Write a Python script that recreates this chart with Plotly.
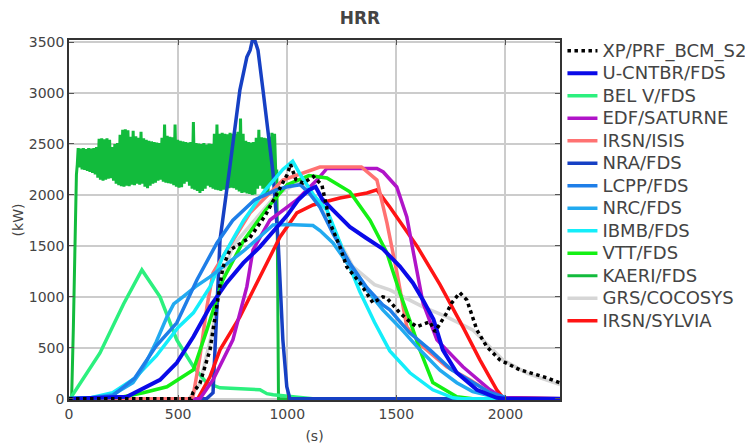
import plotly.graph_objects as go

# ---------------- data ----------------
XP_T = [0, 560, 568, 600, 646, 678, 705, 737, 780, 829, 900, 960, 1000, 1015, 1040, 1072, 1095, 1120,
        1159, 1196, 1240, 1273, 1333, 1393, 1438, 1456, 1516, 1562, 1594, 1654, 1677, 1731, 1754, 1791,
        1823, 1869, 1915, 1974, 2066, 2190, 2250]
XP_Y = [0, 0, 60, 150, 480, 900, 1290, 1460, 1520, 1580, 1800, 2050, 2200, 2300, 2150, 2117, 2146, 2180,
        2097, 1725, 1500, 1294, 1137, 941, 1000, 990, 843, 755, 706, 755, 657, 843, 941, 1040,
        970, 676, 510, 382, 284, 206, 157]

UC_T = [0, 100, 265, 417, 494, 570, 646, 722, 799, 875, 950, 1000, 1050, 1100, 1130, 1160, 1210, 1287,
        1360, 1438, 1516, 1576, 1622, 1670, 1713, 1777, 1869, 1960, 2000, 2250]
UC_Y = [0, 5, 20, 186, 353, 608, 902, 1137, 1333, 1490, 1680, 1800, 1950, 2050, 2080, 1960, 1850, 1686,
        1580, 1470, 1300, 1137, 970, 780, 480, 255, 88, 10, 0, 0]

BEL_T = [0, 5, 142, 250, 334, 417, 494, 570, 631, 692, 875, 907, 936, 1026, 1117, 2250]
BEL_Y = [0, 0, 450, 930, 1264, 1000, 578, 314, 157, 108, 88, 50, 40, 20, 0, 0]

EDF_T = [0, 600, 660, 751, 815, 843, 921, 1044, 1136, 1182, 1411, 1440, 1502, 1548, 1576, 1622, 1686,
         1805, 1929, 1988, 2250]
EDF_Y = [0, 0, 186, 578, 1100, 1460, 1754, 1950, 2146, 2260, 2260, 2225, 2078, 1784, 1460, 941, 578,
         314, 88, 10, 0]

ISIS_T = [0, 550, 568, 600, 632, 660, 724, 829, 980, 1150, 1340, 1411, 1457, 1503, 1548, 1622, 1731,
          1837, 1929, 2000, 2250]
ISIS_Y = [0, 0, 20, 412, 902, 1235, 1460, 1823, 2146, 2274, 2274, 2146, 1725, 1235, 706, 510, 314,
          186, 59, 0, 0]

NRA_T = [0, 630, 660, 692, 737, 783, 815, 830, 845, 866, 889, 935, 958, 980, 998, 1012, 2250]
NRA_Y = [0, 0, 60, 1558, 2274, 3028, 3352, 3420, 3560, 3420, 3028, 2215, 1558, 578, 118, 0, 0]

LCPP_T = [0, 100, 200, 300, 400, 494, 586, 678, 750, 850, 950, 1000, 1060, 1100, 1150, 1210, 1287,
          1365, 1438, 1470, 1560, 1654, 1750, 1850, 1930, 1990, 2010, 2250]
LCPP_Y = [0, 5, 30, 200, 520, 745, 1166, 1529, 1750, 1950, 2050, 2080, 2100, 2020, 1880, 1620, 1330,
          1090, 920, 872, 650, 480, 290, 157, 60, 20, 0, 0]

NRC_T = [0, 100, 200, 293, 340, 400, 449, 480, 522, 580, 646, 705, 800, 880, 935, 1000, 1060, 1118,
         1150, 1210, 1287, 1365, 1438, 1516, 1608, 1700, 1777, 1850, 1929, 2000, 2250]
NRC_Y = [0, 10, 40, 157, 300, 560, 804, 930, 1000, 1100, 1196, 1294, 1450, 1600, 1705, 1710, 1705, 1700,
         1650, 1529, 1294, 1068, 872, 700, 480, 280, 157, 70, 30, 0, 0]

IBMB_T = [0, 100, 200, 300, 400, 500, 570, 646, 705, 800, 900, 980, 1025, 1060, 1120, 1182, 1255, 1333,
          1400, 1470, 1562, 1667, 1760, 1800, 2250]
IBMB_Y = [0, 10, 60, 200, 420, 700, 843, 1098, 1392, 1750, 2050, 2250, 2330, 2200, 2000, 1852, 1460,
          1050, 750, 470, 255, 88, 10, 0, 0]

VTT_T = [0, 250, 340, 449, 570, 632, 705, 800, 900, 1000, 1100, 1182, 1287, 1380, 1457, 1516, 1560,
         1608, 1667, 1777, 1850, 2250]
VTT_Y = [0, 20, 59, 118, 284, 676, 1166, 1550, 1850, 2100, 2190, 2166, 2030, 1750, 1430, 1040, 780,
         480, 160, 20, 0, 0]

KAERI_T = [0, 12, 20, 27, 34, 38] + list(range(42, 949, 6)) + [952, 956, 960, 2250]
KAERI_Y = [0, 0, 700, 1650, 2200, 2300,
           2460, 2270, 2455, 2250, 2460, 2245, 2450, 2235, 2460, 2225,
           2455, 2215, 2460, 2200, 2470, 2170, 2550, 2150, 2555, 2140,
           2545, 2150, 2555, 2160, 2540, 2165, 2470, 2140, 2500, 2110,
           2510, 2095, 2590, 2085, 2640, 2080, 2645, 2090, 2635, 2085,
           2570, 2100, 2630, 2095, 2575, 2110, 2560, 2100, 2620, 2110,
           2555, 2080, 2540, 2065, 2530, 2090, 2525, 2110, 2520, 2120,
           2515, 2140, 2510, 2150, 2560, 2130, 2690, 2120, 2580, 2115,
           2570, 2110, 2565, 2095, 2690, 2080, 2540, 2070, 2530, 2075,
           2525, 2110, 2520, 2130, 2515, 2090, 2520, 2060, 2715, 2050,
           2510, 2040, 2505, 2020, 2500, 2040, 2510, 2060, 2495, 2090,
           2505, 2075, 2500, 2060, 2600, 2050, 2690, 2045, 2600, 2040,
           2610, 2050, 2600, 2060, 2595, 2065, 2610, 2070, 2600, 2065,
           2600, 2050, 2620, 2035, 2750, 2020, 2600, 2025, 2530, 2015,
           2520, 2010, 2515, 2000, 2520, 2005, 2560, 2060, 2640, 2090,
           2565, 2060, 2560, 2000, 2555, 2030, 2570, 2100, 2610, 2150,
           2600, 2180,
           2250, 1200, 0, 0]

GRS_T = [0, 550, 600, 650, 700, 750, 850, 950, 1050, 1100, 1200, 1300, 1400, 1470, 1622, 1731, 1850,
         1929, 1988, 2100, 2250]
GRS_Y = [0, 0, 150, 600, 1150, 1500, 1750, 2000, 2120, 2080, 1700, 1300, 1120, 1068, 902, 804, 676,
         510, 382, 250, 140]

SYL_T = [0, 590, 646, 692, 783, 907, 967, 1044, 1118, 1241, 1365, 1411, 1470, 1594, 1700, 1805, 1883,
         1960, 1990, 2250]
SYL_Y = [0, 0, 216, 480, 804, 1333, 1588, 1823, 1901, 1970, 2019, 2050, 1882, 1500, 1120, 706, 382,
         88, 10, 0]

X_TICKS = [0, 500, 1000, 1500, 2000]
Y_TICKS = [0, 500, 1000, 1500, 2000, 2500, 3000, 3500]

# name, t, y, colour, width, dash, legend rank (list order = drawing order)
SERIES = [
    ("GRS/COCOSYS", GRS_T, GRS_Y, "#d6d6d6", 3.5, "solid", 12),
    ("KAERI/FDS", KAERI_T, KAERI_Y, "#12bb3c", 3, "solid", 11),
    ("BEL V/FDS", BEL_T, BEL_Y, "#2cf07e", 3.5, "solid", 3),
    ("NRA/FDS", NRA_T, NRA_Y, "#1640c4", 3.5, "solid", 6),
    ("IRSN/SYLVIA", SYL_T, SYL_Y, "#ff1414", 3.5, "solid", 13),
    ("EDF/SATURNE", EDF_T, EDF_Y, "#b014c8", 3.5, "solid", 4),
    ("IRSN/ISIS", ISIS_T, ISIS_Y, "#ff7272", 3.5, "solid", 5),
    ("VTT/FDS", VTT_T, VTT_Y, "#14f014", 3.5, "solid", 10),
    ("IBMB/FDS", IBMB_T, IBMB_Y, "#14eefa", 3.5, "solid", 9),
    ("NRC/FDS", NRC_T, NRC_Y, "#22aaf0", 3.5, "solid", 8),
    ("LCPP/FDS", LCPP_T, LCPP_Y, "#1e7ee8", 3.5, "solid", 7),
    ("U-CNTBR/FDS", UC_T, UC_Y, "#0a0ae8", 4, "solid", 2),
    ("XP/PRF_BCM_S2", XP_T, XP_Y, "#000000", 3.5, "dot", 1),
]

FONT = "DejaVu Sans"
TXT = "#444444"

fig = go.Figure()
for name, t, y, col, w, dash, rank in SERIES:
    fig.add_trace(go.Scatter(x=t, y=y, name='<span style="font-size:18px">%s</span>' % name,
                             mode="lines", line=dict(color=col, width=w, dash=dash),
                             legendrank=rank))

axis_common = dict(showline=True, linecolor="#333333", linewidth=1.5, mirror="ticks",
                   ticks="inside", ticklen=5, tickcolor="#555555", automargin=False,
                   showgrid=True, gridcolor="#cccccc", gridwidth=1.5, zeroline=False,
                   tickfont=dict(family=FONT, size=14, color=TXT))

# the page body adds an 8px offset; the figure is made a bit wider than the
# window so the legend has room without pushing the plot area
W, H = 775, 446
fig.update_layout(
    width=W, height=H,
    margin=dict(l=61, r=W - 552, t=32, b=H - 392),
    paper_bgcolor="white", plot_bgcolor="white",
    title=dict(text="<b>HRR</b>", x=352 / W, xref="container", xanchor="center",
               y=1 - 10 / H, yref="container", yanchor="middle",
               font=dict(family=FONT, size=17, color=TXT)),
    xaxis=dict(range=[0, 2250], tickvals=X_TICKS, **axis_common,
               title=dict(text="(s)", standoff=11, font=dict(family=FONT, size=14, color=TXT))),
    yaxis=dict(range=[-12, 3520], tickvals=Y_TICKS, **axis_common,
               title=dict(text="(kW)", standoff=2, font=dict(family=FONT, size=14, color=TXT))),
    legend=dict(x=1.005, xanchor="left", y=1.015, yanchor="top", maxheight=420,
                font=dict(family=FONT, size=15, color=TXT),
                bgcolor="rgba(0,0,0,0)"),
    showlegend=True,
)

fig.write_html("out.html")
